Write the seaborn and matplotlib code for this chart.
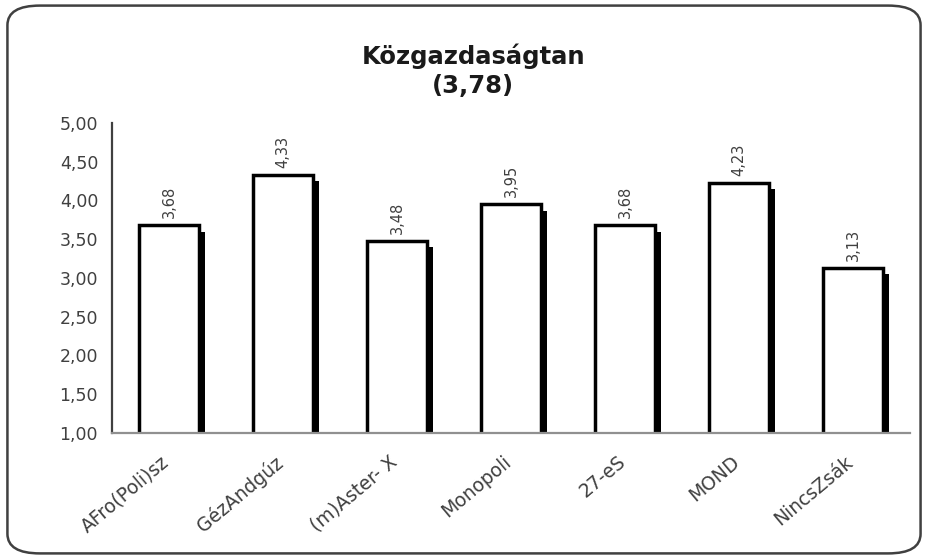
import pandas as pd
import matplotlib
matplotlib.use("Agg")
import matplotlib.pyplot as plt
import matplotlib.patheffects as pe
import matplotlib.transforms as mtransforms
from matplotlib.patches import FancyBboxPatch
from matplotlib.ticker import FuncFormatter, FixedLocator, MultipleLocator
import seaborn as sns

# ---------------------------------------------------------------------------
# Data
# ---------------------------------------------------------------------------
categories = ["AFro(Poli)sz", "GézAndgúz", "(m)Aster- X", "Monopoli",
              "27-eS", "MOND", "NincsZsák"]
values = [3.68, 4.33, 3.48, 3.95, 3.68, 4.23, 3.13]
title = "Közgazdaságtan"
subtitle = "(3,78)"

df = pd.DataFrame({"cat": categories, "val": values})

sns.set_style("white")
# the reference looks like a horizontally stretched Arial -> wider DejaVu
plt.rcParams["font.family"] = ["DejaVu Sans"]


def hu(v, _pos=None):
    return f"{v:.2f}".replace(".", ",")


fig = plt.figure(figsize=(9.28, 5.59), dpi=100)
ax = fig.add_axes([0.1207, 0.2254, 0.8599, 0.5546])

sns.barplot(data=df, x="cat", y="val", color="white", edgecolor="black",
            linewidth=2.5, width=0.52, saturation=1, ax=ax)

for bar in ax.patches:
    bar.set_path_effects([
        pe.SimplePatchShadow(offset=(4.5, -4.5), shadow_rgbFace="black", alpha=1.0),
        pe.Normal(),
    ])

ax.bar_label(ax.containers[0], labels=[hu(v) for v in values], rotation=90,
             padding=5, fontsize=10.5, color="#404040")

ax.set_ylim(1, 5)
ax.set_xlim(-0.5, len(categories) - 0.5)
ax.yaxis.set_major_locator(MultipleLocator(0.5))
ax.yaxis.set_major_formatter(FuncFormatter(hu))

# ticks between categories on x axis
ax.xaxis.set_minor_locator(FixedLocator([i - 0.5 for i in range(len(categories) + 1)]))
ax.tick_params(axis="x", which="major", length=0, pad=14)
ax.tick_params(axis="x", which="minor", length=5, width=1.3, color="#404040",
               direction="out")
ax.tick_params(axis="y", length=5, width=1.3, color="#404040", direction="out",
               labelsize=12.5, labelcolor="#404040", pad=5)
shift = mtransforms.ScaledTranslation(-6 / 72, 0, fig.dpi_scale_trans)
for lbl in ax.get_xticklabels():
    lbl.set_rotation(40)
    lbl.set_ha("right")
    lbl.set_rotation_mode("anchor")
    lbl.set_fontsize(13.5)
    lbl.set_color("#404040")
    lbl.set_transform(lbl.get_transform() + shift)

ax.set_xlabel("")
ax.set_ylabel("")
for side in ["top", "right"]:
    ax.spines[side].set_visible(False)
ax.spines["left"].set_color("#404040")
ax.spines["left"].set_linewidth(1.6)
ax.spines["bottom"].set_color("#909090")
ax.spines["bottom"].set_linewidth(1.6)

fig.text(0.51, 0.874, f"{title}\n{subtitle}", ha="center", va="center",
         fontsize=17.5, fontweight="bold", color="#1a1a1a", linespacing=1.25)

border = FancyBboxPatch((0.008, 0.01), 0.984, 0.98,
                        boxstyle="round,pad=0,rounding_size=0.035",
                        transform=fig.transFigure, fill=False,
                        edgecolor="#404040", linewidth=1.8)
fig.patches.append(border)

fig.savefig("out.png", dpi=100)
